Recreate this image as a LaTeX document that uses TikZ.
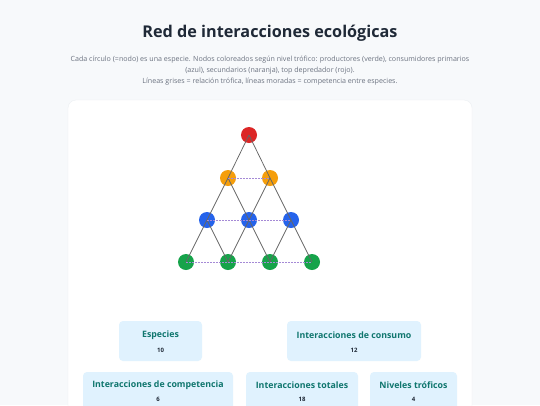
\documentclass[tikz,border=0pt]{standalone}
\usepackage{fontspec}
\setmainfont{Open Sans}
\usepackage{xcolor}
\usetikzlibrary{positioning}
\definecolor{bgpage}{HTML}{F7F9FB}
\definecolor{cardline}{HTML}{ECEFF3}
\definecolor{titlecol}{HTML}{1F2937}
\definecolor{subcol}{HTML}{6B7280}
\definecolor{prodcol}{HTML}{16A34A}
\definecolor{primcol}{HTML}{2563EB}
\definecolor{seccol}{HTML}{F59E0B}
\definecolor{topcol}{HTML}{DC2626}
\definecolor{trofcol}{HTML}{666666}
\definecolor{compcol}{HTML}{A58AD6}
\definecolor{statfill}{HTML}{E0F2FE}
\definecolor{statlab}{HTML}{0F766E}
\definecolor{statnum}{HTML}{1F2937}
\tikzset{
  sp/.style={circle,minimum size=16pt,inner sep=0pt},
  trof/.style={draw=trofcol,line width=0.75pt},
  comp/.style={draw=compcol,line width=0.75pt,dash pattern=on 1.5pt off 1.5pt},
  stat/.style={fill=statfill,rounded corners=4pt,inner sep=0pt},
  statlabel/.style={font=\fontsize{8.8}{10}\selectfont\bfseries,text=statlab},
  statvalue/.style={font=\fontsize{6}{7}\selectfont\bfseries,text=statnum},
}
\begin{document}
\begin{tikzpicture}[x=1pt,y=-1pt]
\useasboundingbox (0,0) rectangle (540,405);
\fill[bgpage] (0,0) rectangle (540,405);
\filldraw[fill=white,draw=cardline,rounded corners=8pt] (68,100) rectangle (472,420);

% titulo
\node[font=\fontsize{16.2}{18}\selectfont\bfseries,text=titlecol] (title) at (270,33) {Red de interacciones ecológicas};
\node[font=\fontsize{7.1}{11}\selectfont,text=subcol,align=center] (sub) at (270,70.5)
  {Cada círculo (=nodo) es una especie. Nodos coloreados según nivel trófico: productores (verde), consumidores primarios\\
   (azul), secundarios (naranja), top depredador (rojo).\\
   Líneas grises = relación trófica, líneas moradas = competencia entre especies.};

% especies
\node[sp,fill=topcol] (t1) at (249,135) {};
\node[sp,fill=seccol] (s1) at (228,178) {};
\node[sp,fill=seccol] (s2) at (270,178) {};
\node[sp,fill=primcol] (c1) at (207,220) {};
\node[sp,fill=primcol] (c2) at (249,220) {};
\node[sp,fill=primcol] (c3) at (291,220) {};
\node[sp,fill=prodcol] (p1) at (186,262) {};
\node[sp,fill=prodcol] (p2) at (228,262) {};
\node[sp,fill=prodcol] (p3) at (270,262) {};
\node[sp,fill=prodcol] (p4) at (312,262) {};

% relaciones troficas
\draw[trof] (t1.center)--(s1.center) (t1.center)--(s2.center);
\draw[trof] (s1.center)--(c1.center) (s1.center)--(c2.center);
\draw[trof] (s2.center)--(c2.center) (s2.center)--(c3.center);
\draw[trof] (c1.center)--(p1.center) (c1.center)--(p2.center);
\draw[trof] (c2.center)--(p2.center) (c2.center)--(p3.center);
\draw[trof] (c3.center)--(p3.center) (c3.center)--(p4.center);
% competencia
\draw[comp] (s1.center)--(s2.center);
\draw[comp] (c1.center)--(c2.center) (c2.center)--(c3.center);
\draw[comp] (p1.center)--(p2.center) (p2.center)--(p3.center) (p3.center)--(p4.center);

% resumen
\node[stat,minimum width=83pt,minimum height=40pt] (especies) at (160.5,341) {};
\node[statlabel] at (160.5,335) {Especies};
\node[statvalue] at (160.5,350) {10};
\node[stat,minimum width=134pt,minimum height=40pt] (consumo) at (354,341) {};
\node[statlabel] at (354,335) {Interacciones de consumo};
\node[statvalue] at (354,350) {12};
\node[stat,minimum width=150pt,minimum height=40pt] (competencia) at (158,392) {};
\node[statlabel] at (158,385) {Interacciones de competencia};
\node[statvalue] at (158,399) {6};
\node[stat,minimum width=112pt,minimum height=40pt] (totales) at (302,392) {};
\node[statlabel] at (302,385) {Interacciones totales};
\node[statvalue] at (302,399) {18};
\node[stat,minimum width=87pt,minimum height=40pt] (niveles) at (413.5,392) {};
\node[statlabel] at (413.5,385) {Niveles tróficos};
\node[statvalue] at (413.5,399) {4};
\end{tikzpicture}
\end{document}
